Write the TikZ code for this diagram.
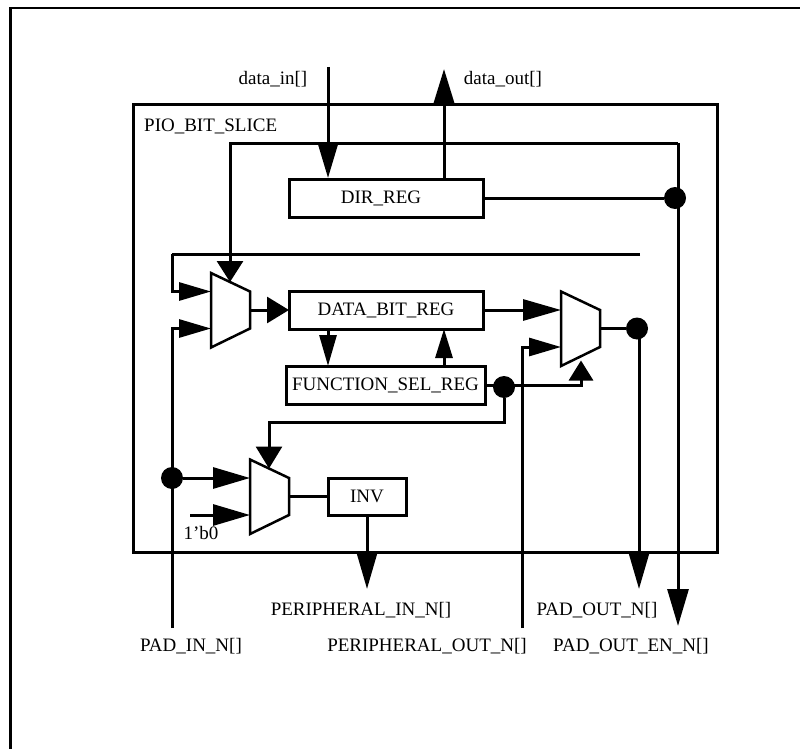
\documentclass[tikz,border=0pt]{standalone}
\usepackage{fontspec}
\setmainfont{Liberation Serif}
\usetikzlibrary{positioning,arrows.meta}
\tikzset{
  reg/.style={draw,line width=3pt,outer sep=0pt,inner sep=0pt,align=center,minimum height=38pt,font=\fontsize{19}{22}\selectfont},
  lbl/.style={inner sep=0pt,font=\fontsize{19}{22}\selectfont},
  wire/.style={line width=3pt},
  arr/.style 2 args={line width=3pt,-{Triangle[length=#1pt,width=#2pt]}},
  dot/.style={circle,fill=black,minimum size=22pt,inner sep=0pt},
  pics/muxcell/.style={code={
    \draw[line width=2.5pt,fill=white,line join=miter] (0,0) -- (39,18.5) -- (39,55.5) -- (0,74.5) -- cycle;
    \coordinate (-a) at (0,18.5);
    \coordinate (-b) at (0,55.5);
    \coordinate (-y) at (39,37);
    \coordinate (-st) at (19,9);
    \coordinate (-sb) at (20,69);
  }},
}
\begin{document}
\begin{tikzpicture}[x=1pt,y=-1pt]
\useasboundingbox (0,0) rectangle (800,749);
\draw[line width=2.5pt] (10.3,749) -- (10.3,8) -- (800,8);
\node[draw,line width=3pt,outer sep=0pt,minimum width=584pt,minimum height=447pt] (slice) at (425,328.5) {};
\node[lbl,anchor=north west] (slicelbl) at (144,119) {PIO\_BIT\_SLICE};

% registers
\node[reg,minimum width=194pt] (dirreg) at (386,198) {DIR\_REG\hspace*{10pt}};
\node[reg,minimum width=194pt,below=74pt of dirreg] (datareg) {DATA\_BIT\_REG};
\node[reg,minimum width=199pt] (funcreg) at (385.5,385) {FUNCTION\_SEL\_REG};
\node[reg,minimum width=78pt,minimum height=37pt] (invreg) at (367,496.5) {INV};

% muxes
\pic (muxa) at (211,273) {muxcell};
\pic (muxb) at (561,291.5) {muxcell};
\pic (muxc) at (250,459.5) {muxcell};

% junction dots
\node[dot] (dirdot) at (675,198) {};
\node[dot] (seldot) at (504,387) {};
\node[dot] (outdot) at (637,328.5) {};
\node[dot] (paddot) at (172,478) {};

% text at the pins
\node[lbl] (datainlbl) at (273,79) {data\_in[]};
\node[lbl] (dataoutlbl) at (503,79) {data\_out[]};
\node[lbl] (zerolbl) at (201,533) {1'b0};
\node[lbl] (perinlbl) at (361,610) {PERIPHERAL\_IN\_N[]};
\node[lbl] (padoutlbl) at (597,610) {PAD\_OUT\_N[]};
\node[lbl] (padinlbl) at (191,646.5) {PAD\_IN\_N[]};
\node[lbl] (peroutlbl) at (427,646.5) {PERIPHERAL\_OUT\_N[]};
\node[lbl] (padenlbl) at (631,646.5) {PAD\_OUT\_EN\_N[]};

% free ends
\coordinate (datatop) at (328,67);
\coordinate (dataintip) at (328,178);
\coordinate (dataouttip) at (444,69);
\coordinate (fbcorner) at (678,143);
\coordinate (entip) at (678,626);
\coordinate (loopend) at (640,254);
\coordinate (loopleft) at (172,254);
\coordinate (padinend) at (172,628);
\coordinate (perinend) at (522,628);
\coordinate (zerostart) at (190,515);

\draw[arr={35}{20}] (datatop) -- (dataintip);
\draw[arr={34}{20}] (dirreg.north -| dataouttip) -- (dataouttip);
\draw[arr={21}{26}] (fbcorner) -| (muxa-st);
\draw[arr={37}{21}] (fbcorner) -- (entip);
\draw[wire] (dirreg.east) -- (dirdot);
\draw[wire] (loopend) -- (loopleft);
\draw[arr={32}{18}] (loopleft) |- (muxa-a);
\draw[arr={32}{18}] (padinend) |- (muxa-b);
\draw[arr={22}{26}] (muxa-y) -- (datareg.west);
\draw[arr={31}{17}] (datareg.south -| dataintip) -- (funcreg.north -| dataintip);
\draw[arr={29}{17}] (funcreg.north -| dataouttip) -- (datareg.south -| dataouttip);
\draw[arr={38}{21}] (datareg.east) -- (muxb-a);
\draw[arr={32}{18}] (perinend) |- (muxb-b);
\draw[arr={20}{24}] (funcreg.east) -| (muxb-sb);
\draw[wire] (muxb-y) -- (outdot);
\draw[arr={36}{20}] (outdot.center -| 639,0) -- (639,589);
\draw[arr={22}{26}] (seldot.south) |- (269,422) -- (muxc-st);
\draw[arr={37}{21}] (paddot) -- (muxc-a);
\draw[arr={37}{21}] (zerostart) -- (muxc-b);
\draw[wire] (muxc-y) -- (invreg.west |- muxc-y);
\draw[arr={36}{20}] (invreg.south) -- (367,589);
\end{tikzpicture}
\end{document}
